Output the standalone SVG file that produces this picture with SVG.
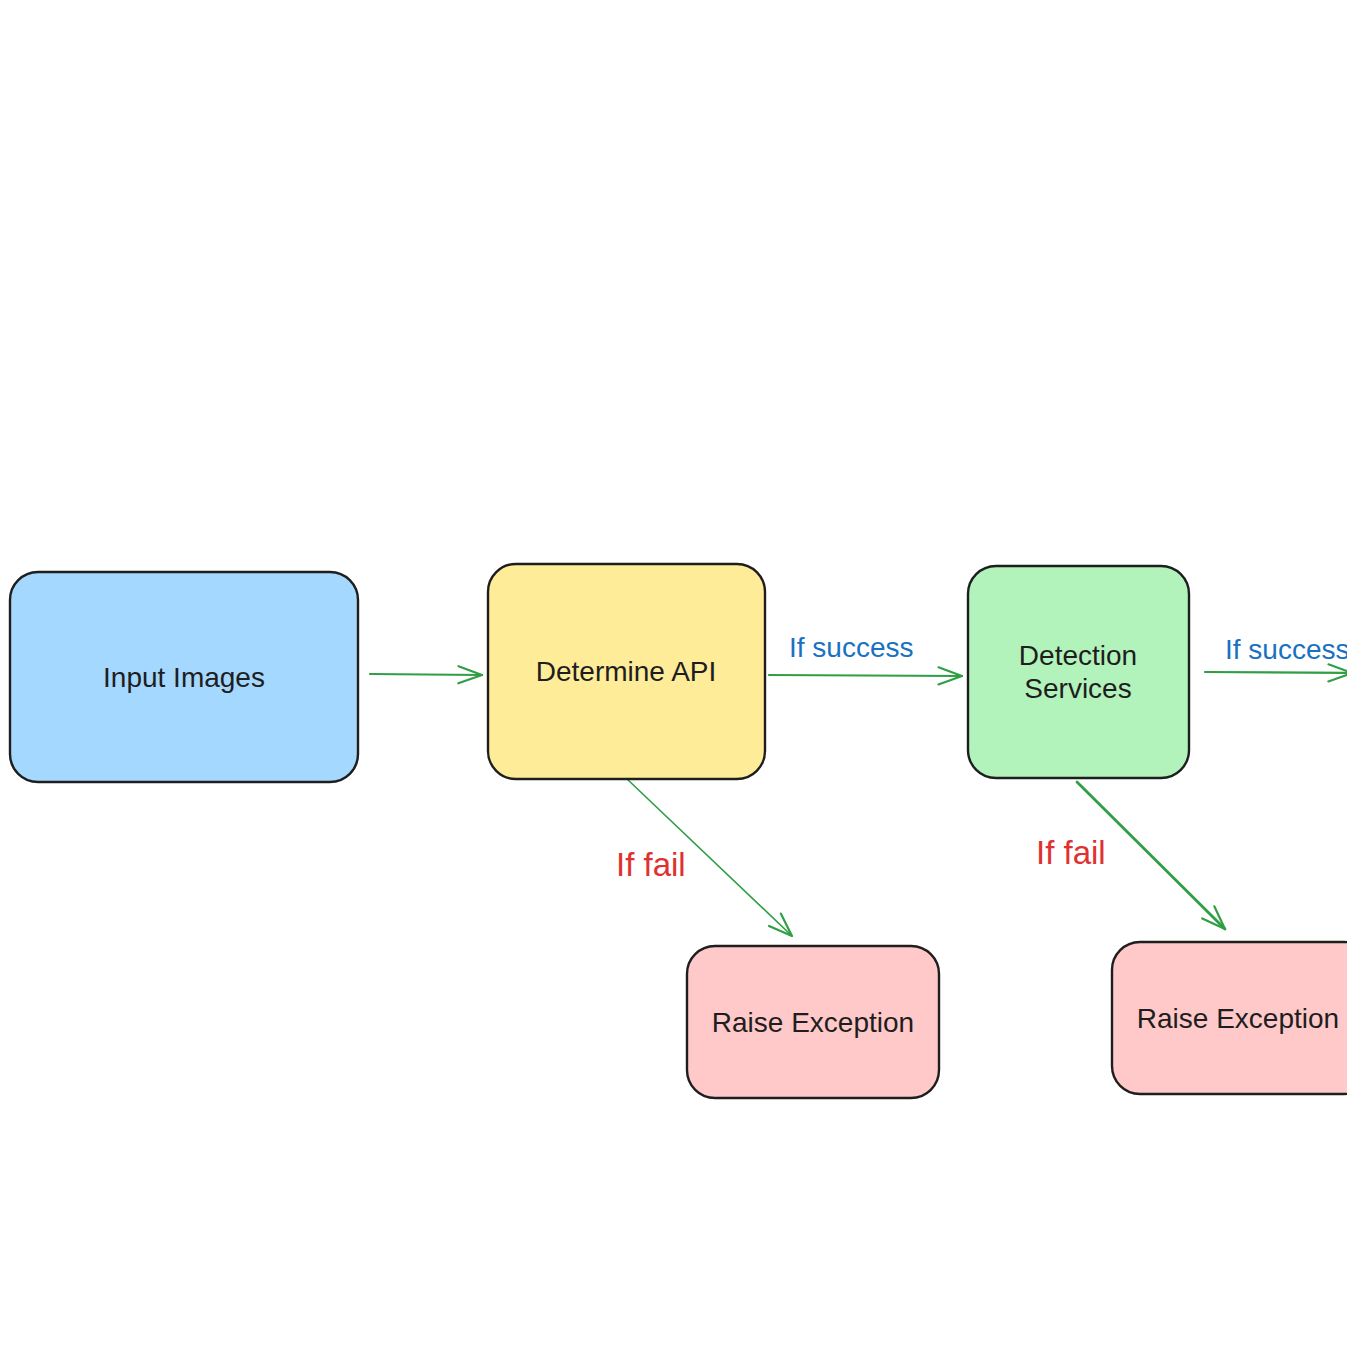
<svg xmlns="http://www.w3.org/2000/svg" width="1347" height="1347" viewBox="0 0 1347 1347">
<style>
.box{stroke:#1e1e1e;stroke-width:2.4;}
.lbl{font-family:"Liberation Sans",Arial,sans-serif;font-size:28px;fill:#1e1e1e;text-anchor:middle;}
.succ{font-family:"Liberation Sans",Arial,sans-serif;font-size:28px;fill:#1971c2;}
.fail{font-family:"Liberation Sans",Arial,sans-serif;font-size:33px;fill:#e03131;}
.edge{stroke:#2f9e44;stroke-width:2.2;fill:none;stroke-linecap:round;}
</style>
<defs>
<marker id="ah" markerUnits="userSpaceOnUse" markerWidth="30" markerHeight="30" viewBox="-24 -12 28 24" refX="0" refY="0" orient="auto">
<path d="M -22,-8 L 0,0 L -22,8" fill="none" stroke="#2f9e44" stroke-width="2" stroke-linecap="round" stroke-linejoin="round"/>
</marker>
</defs>
<rect width="1347" height="1347" fill="#ffffff"/>
<g id="connectors">
<line class="edge" x1="370" y1="674" x2="482" y2="675" marker-end="url(#ah)"/>
<line class="edge" x1="769" y1="675" x2="962" y2="676" marker-end="url(#ah)"/>
<line class="edge" x1="1205" y1="672" x2="1352" y2="673" marker-end="url(#ah)"/>
<line class="edge" x1="627" y1="779" x2="792" y2="936" marker-end="url(#ah)" style="stroke-width:1.6"/>
<line class="edge" x1="1077" y1="782" x2="1225" y2="929" marker-end="url(#ah)" style="stroke-width:2.8"/>
<text class="succ" x="789" y="657">If success</text>
<text class="succ" x="1225" y="659">If success</text>
<text class="fail" x="616" y="876">If fail</text>
<text class="fail" x="1036" y="864">If fail</text>
</g>
<g id="input-images">
<rect class="box" x="10" y="572" width="348" height="210" rx="28" fill="#a5d8ff"/>
<text class="lbl" x="184" y="687">Input Images</text>
</g>
<g id="determine-api">
<rect class="box" x="488" y="564" width="277" height="215" rx="28" fill="#ffec99"/>
<text class="lbl" x="626" y="681">Determine API</text>
</g>
<g id="detection-services">
<rect class="box" x="968" y="566" width="221" height="212" rx="28" fill="#b2f2bb"/>
<text class="lbl" x="1078" y="665">Detection</text>
<text class="lbl" x="1078" y="698">Services</text>
</g>
<g id="raise-exception-1">
<rect class="box" x="687" y="946" width="252" height="152" rx="28" fill="#ffc9c9"/>
<text class="lbl" x="813" y="1032">Raise Exception</text>
</g>
<g id="raise-exception-2">
<rect class="box" x="1112" y="942" width="260" height="152" rx="28" fill="#ffc9c9"/>
<text class="lbl" x="1238" y="1028">Raise Exception</text>
</g>
</svg>
